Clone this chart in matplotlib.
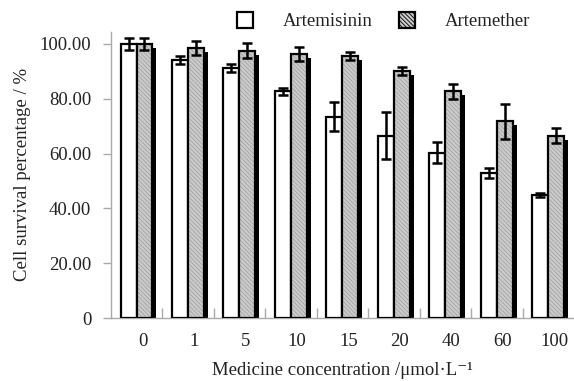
import numpy as np
import matplotlib
matplotlib.use('Agg')
import matplotlib.pyplot as plt
import matplotlib.transforms as mtransforms
from matplotlib.patches import Patch

plt.rcParams['font.family'] = ['Liberation Serif', 'DejaVu Serif']
plt.rcParams['hatch.color'] = '#a4a4a4'
plt.rcParams['hatch.linewidth'] = 0.6

concentrations = ['0', '1', '5', '10', '15', '20', '40', '60', '100']
artemisinin = [100.0, 94.2, 91.1, 82.7, 73.5, 66.6, 60.4, 52.8, 44.9]
artemisinin_err = [2.3, 1.5, 1.5, 1.4, 5.3, 8.5, 3.8, 1.8, 0.8]
artemether = [100.0, 98.6, 97.6, 96.3, 95.6, 90.2, 82.8, 71.8, 66.5]
artemether_err = [2.3, 2.5, 2.6, 2.6, 1.5, 1.5, 2.7, 6.3, 2.8]

x = np.arange(len(concentrations))
w = 0.31
gray = '#cbcbcb'
hatch = '\\' * 8
# drop shadow offset of the gray bars (data units, ~4 px right / down)
sdx, sdy = 0.075, 1.5

fig = plt.figure(figsize=(5.74, 3.81), dpi=100)
ax = fig.add_axes([0.193, 0.165, 0.807, 0.752])

# white bars
ax.bar(x - w / 2, artemisinin, w, color='white', edgecolor='black',
       linewidth=1.6, zorder=3)
# shadow behind gray bars
ax.bar(x + w / 2 + sdx, np.array(artemether) - sdy, w, color='black',
       linewidth=0, zorder=2)
# gray hatched bars
ax.bar(x + w / 2, artemether, w, color=gray, edgecolor='#a4a4a4',
       hatch=hatch, linewidth=0, zorder=3)
ax.bar(x + w / 2, artemether, w, fill=False, edgecolor='black',
       linewidth=1.6, zorder=4)

ax.errorbar(x - w / 2, artemisinin, yerr=artemisinin_err, fmt='none',
            ecolor='black', elinewidth=1.8, capsize=3.8, capthick=1.8, zorder=5)
ax.errorbar(x + w / 2, artemether, yerr=artemether_err, fmt='none',
            ecolor='black', elinewidth=1.8, capsize=3.8, capthick=1.8, zorder=5)

ax.set_xlim(-0.5, len(concentrations) - 0.5)
ax.set_ylim(0, 104.5)

ax.set_yticks([0, 20, 40, 60, 80, 100])
ax.set_yticklabels(['0', '20.00', '40.00', '60.00', '80.00', '100.00'],
                   fontsize=13.5, color='#222222')
ax.tick_params(axis='y', direction='out', length=6, color='#aaaaaa', width=1, pad=8)

ax.set_xticks(x)
ax.set_xticklabels(concentrations, fontsize=13.5, color='#222222')
ax.tick_params(axis='x', length=0, pad=11)
offset = mtransforms.ScaledTranslation(6 / 100, 0, fig.dpi_scale_trans)
for lab in ax.get_xticklabels():
    lab.set_transform(lab.get_transform() + offset)
ax.set_xticks(x[:-1] + 0.5, minor=True)
ax.tick_params(axis='x', which='minor', direction='in', length=7,
               color='#aaaaaa', width=1)

for s in ['top', 'right']:
    ax.spines[s].set_visible(False)
for s in ['left', 'bottom']:
    ax.spines[s].set_color('#aaaaaa')
    ax.spines[s].set_linewidth(1)

ax.set_ylabel('Cell survival percentage / %', fontsize=13.5, color='#222222',
              labelpad=6)
ax.set_xlabel('Medicine concentration /\u03bcmol\u00b7L\u207b\u00b9', fontsize=13.5,
              color='#222222', labelpad=8)

handles = [Patch(facecolor='white', edgecolor='black', linewidth=1.6),
           Patch(facecolor=gray, edgecolor='black', linewidth=1.6,
                 hatch=hatch)]
fig.legend(handles, ['Artemisinin', 'Artemether'], loc='center',
           bbox_to_anchor=(0.668, 0.945), ncol=2, frameon=False,
           fontsize=13.5, handlelength=0.85, handleheight=0.95,
           handletextpad=1.6, columnspacing=1.4, labelcolor='#222222')

fig.savefig('out.png', dpi=100)
